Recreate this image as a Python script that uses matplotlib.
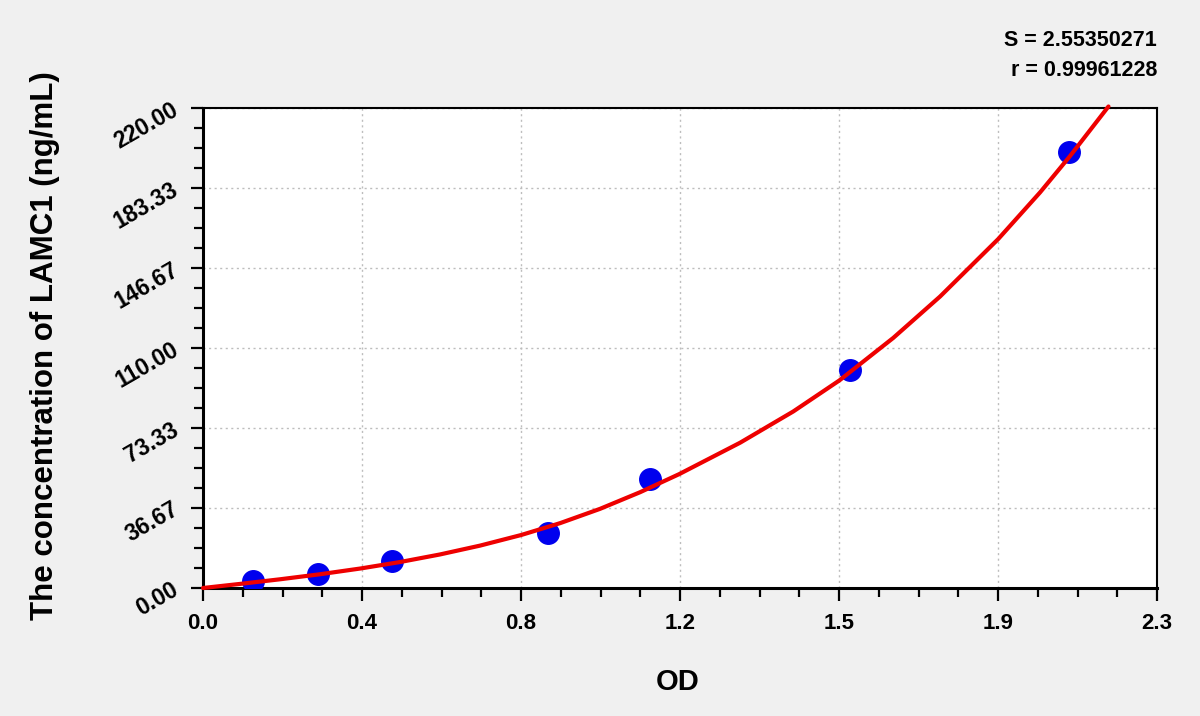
import numpy as np
import matplotlib
matplotlib.use("Agg")
import matplotlib.pyplot as plt
from matplotlib.ticker import AutoMinorLocator

plt.rcParams['font.family'] = ['Liberation Sans', 'DejaVu Sans']
plt.rcParams['font.weight'] = 'bold'

# Standard points (OD, concentration ng/mL)
od_points = [0.120, 0.278, 0.456, 0.832, 1.078, 1.561, 2.087]
conc_points = [3.125, 6.25, 12.5, 25.0, 50.0, 100.0, 200.0]

# Fitted curve
curve_od = [0.0, 0.089, 0.186, 0.282, 0.380, 0.475, 0.571, 0.668, 0.767,
            0.861, 0.957, 1.054, 1.148, 1.295, 1.423, 1.534, 1.664, 1.777,
            1.917, 2.018, 2.090, 2.183]
curve_conc = [0.0, 1.87, 4.0, 6.3, 8.95, 11.9, 15.36, 19.43, 24.28,
              29.73, 36.26, 43.92, 52.19, 66.6, 80.9, 95.1, 114.6, 133.6,
              159.9, 181.3, 197.9, 220.7]

x_ticks = [0.0, 2.3 / 6, 2 * 2.3 / 6, 3 * 2.3 / 6, 4 * 2.3 / 6, 5 * 2.3 / 6, 2.3]
x_labels = ['0.0', '0.4', '0.8', '1.2', '1.5', '1.9', '2.3']
y_ticks = [0.0, 220 / 6, 2 * 220 / 6, 3 * 220 / 6, 4 * 220 / 6, 5 * 220 / 6, 220.0]
y_labels = ['0.00', '36.67', '73.33', '110.00', '146.67', '183.33', '220.00']

fig = plt.figure(figsize=(12, 7.16), dpi=100, facecolor='#f0f0f0')
ax = fig.add_axes([203 / 1200, 1 - 588 / 716, (1157 - 203) / 1200, (588 - 108) / 716])
ax.set_facecolor('white')

ax.set_xlim(0, 2.3)
ax.set_ylim(0, 220)

ax.grid(True, which='major', linestyle=(0, (1.5, 2.5)), color='#bdbdbd', linewidth=1.0)
ax.set_axisbelow(True)

ax.plot(od_points, conc_points, 'o', color='#0000ee', markersize=15.5, zorder=3)
ax.plot(curve_od, curve_conc, '-', color='#ee0000', linewidth=3.0, zorder=4,
        clip_on=False, solid_capstyle='round', solid_joinstyle='round')

ax.set_xticks(x_ticks)
ax.set_xticklabels(x_labels, fontsize=16, fontweight='bold')
ax.set_yticks(y_ticks)
ax.set_yticklabels(y_labels, fontsize=16.5, fontweight='bold', rotation=30,
                   rotation_mode='anchor', ha='right', va='center')
ax.xaxis.set_minor_locator(AutoMinorLocator(4))
ax.yaxis.set_minor_locator(AutoMinorLocator(4))

ax.tick_params(axis='both', which='major', direction='out', length=9, width=1.6, color='black')
ax.tick_params(axis='both', which='minor', direction='out', length=6.5, width=1.6, color='black')
ax.tick_params(axis='x', which='major', pad=9)
ax.tick_params(axis='y', which='major', pad=10)

for s in ['left', 'bottom']:
    ax.spines[s].set_linewidth(2.2)
for s in ['top', 'right']:
    ax.spines[s].set_linewidth(1.5)
for s in ax.spines.values():
    s.set_color('black')

fig.text(678 / 1200, 1 - 682 / 716, 'OD', fontsize=21, fontweight='bold',
         ha='center', va='center')
fig.text(45 / 1200, 1 - 346 / 716, 'The concentration of LAMC1 (ng/mL)', fontsize=22.5,
         fontweight='bold', rotation=90, ha='center', va='center')

fig.text(1157 / 1200, 1 - 40 / 716, 'S = 2.55350271', fontsize=15.5, fontweight='bold',
         ha='right', va='center')
fig.text(1157 / 1200, 1 - 70 / 716, 'r = 0.99961228', fontsize=15.5, fontweight='bold',
         ha='right', va='center')

fig.savefig('out.png', dpi=100, facecolor=fig.get_facecolor())
